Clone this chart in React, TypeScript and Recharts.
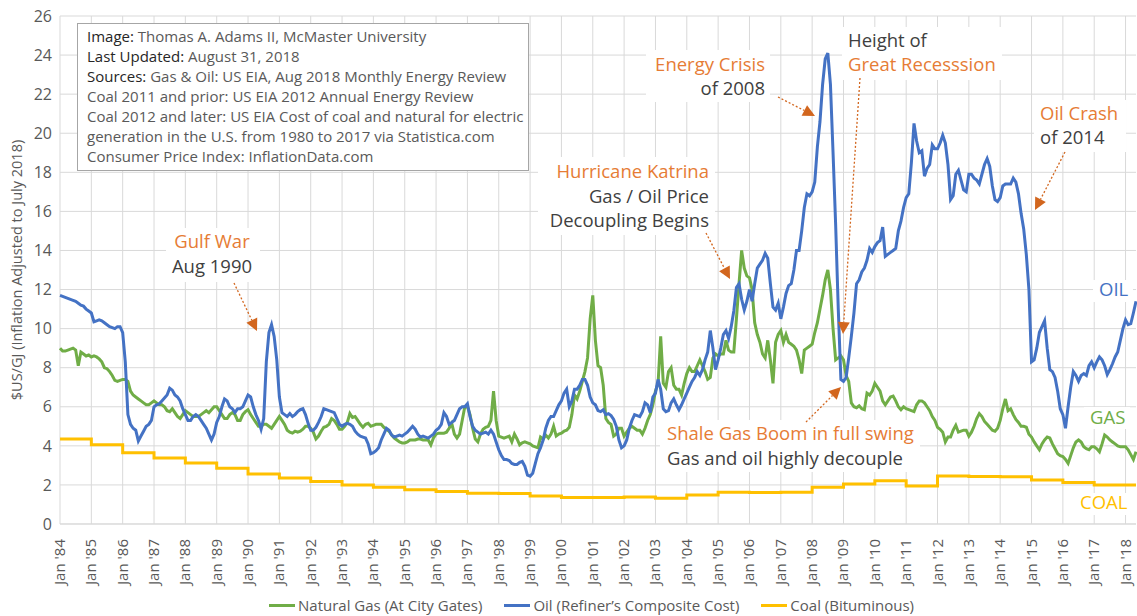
import React from 'react';
import { LineChart, Line, XAxis, YAxis, CartesianGrid, Legend } from 'recharts';

const FONT = '"Segoe UI", "Open Sans", sans-serif';
const START_YEAR = 1984;

// Oil, refiner's composite cost, $US/GJ (July 2018 dollars), monthly Jan 1984 - May 2018
const oilPrices = [
  11.7, 11.65, 11.6, 11.55, 11.5, 11.45, 11.4, 11.3, 11.2, 11.15, 11.0, 10.9, // 1984
  10.8, 10.35, 10.4, 10.45, 10.4, 10.3, 10.2, 10.1, 10.05, 10.0, 10.1, 10.1, // 1985
  9.8, 8.3, 5.6, 5.1, 4.9, 4.8, 4.25, 4.5, 4.75, 5.0, 5.1, 5.3, // 1986
  6.0, 6.1, 6.15, 6.3, 6.45, 6.6, 6.95, 6.85, 6.6, 6.5, 6.3, 5.9, // 1987
  5.6, 5.3, 5.3, 5.5, 5.6, 5.5, 5.3, 5.1, 4.9, 4.6, 4.3, 4.6, // 1988
  5.2, 5.5, 6.0, 6.4, 6.3, 6.0, 5.9, 5.7, 5.9, 5.9, 6.0, 6.3, // 1989
  6.6, 6.5, 6.0, 5.6, 5.3, 4.85, 5.4, 8.3, 9.8, 10.2, 9.6, 8.4, // 1990
  6.5, 5.7, 5.6, 5.5, 5.65, 5.5, 5.6, 5.75, 5.85, 5.9, 5.6, 5.15, // 1991
  4.8, 4.8, 4.95, 5.2, 5.5, 5.9, 5.85, 5.8, 5.75, 5.7, 5.4, 5.1, // 1992
  5.0, 5.1, 5.15, 5.1, 5.0, 4.75, 4.6, 4.5, 4.45, 4.4, 4.1, 3.6, // 1993
  3.65, 3.75, 3.9, 4.3, 4.6, 4.9, 4.8, 4.55, 4.45, 4.5, 4.55, 4.5, // 1994
  4.6, 4.7, 4.85, 5.0, 4.85, 4.6, 4.45, 4.5, 4.45, 4.4, 4.5, 4.6, // 1995
  4.8, 4.9, 5.1, 5.7, 5.5, 5.1, 5.2, 5.3, 5.6, 5.9, 6.0, 6.0, // 1996
  6.15, 5.5, 5.0, 4.8, 4.7, 4.6, 4.65, 4.7, 4.6, 4.8, 4.6, 4.2, // 1997
  3.8, 3.5, 3.3, 3.3, 3.25, 3.1, 3.05, 3.05, 3.15, 3.2, 2.95, 2.5, // 1998
  2.45, 2.6, 3.1, 3.6, 3.9, 4.3, 4.9, 5.3, 5.5, 5.5, 5.8, 6.1, // 1999
  6.3, 6.7, 6.9, 6.0, 6.3, 6.9, 6.9, 7.1, 7.4, 7.4, 7.1, 6.5, // 2000
  6.2, 6.1, 5.8, 5.75, 5.85, 5.6, 5.65, 5.55, 5.35, 5.0, 4.3, 3.9, // 2001
  4.0, 4.3, 4.9, 5.3, 5.6, 5.55, 5.5, 5.75, 6.2, 6.1, 5.7, 6.5, // 2002
  6.7, 7.4, 6.9, 5.9, 5.75, 5.8, 6.2, 6.4, 6.1, 5.85, 6.1, 6.4, // 2003
  6.7, 7.0, 7.3, 7.5, 7.8, 7.6, 7.9, 8.4, 8.8, 9.9, 9.0, 7.9, // 2004
  8.4, 9.0, 9.7, 9.9, 9.5, 10.1, 10.9, 12.1, 12.3, 11.5, 10.95, 11.4, // 2005
  12.0, 11.4, 12.3, 13.1, 13.3, 13.5, 13.85, 13.6, 12.3, 11.1, 10.95, 11.3, // 2006
  10.5, 11.1, 11.8, 12.2, 12.3, 13.0, 14.0, 14.0, 15.0, 16.2, 16.9, 16.8, // 2007
  17.0, 17.5, 19.3, 20.6, 22.5, 23.8, 24.1, 22.5, 19.0, 15.3, 11.0, 7.4, // 2008
  7.3, 7.5, 8.5, 9.6, 10.8, 12.3, 12.5, 12.9, 13.1, 13.5, 14.1, 13.9, // 2009
  14.2, 14.4, 14.5, 15.2, 13.7, 13.8, 13.9, 14.0, 14.1, 15.0, 15.5, 16.2, // 2010
  16.7, 16.9, 18.5, 20.5, 19.6, 19.0, 19.1, 17.8, 18.2, 18.4, 19.4, 19.2, // 2011
  19.2, 19.5, 19.9, 19.5, 18.4, 16.6, 16.8, 17.9, 18.1, 17.6, 17.1, 17.0, // 2012
  17.9, 17.9, 17.7, 17.6, 17.4, 17.9, 18.4, 18.7, 18.3, 17.3, 16.6, 16.5, // 2013
  16.7, 17.3, 17.4, 17.4, 17.4, 17.7, 17.5, 16.9, 15.9, 15.1, 13.8, 12.0, // 2014
  8.3, 8.4, 9.0, 9.8, 10.1, 10.4, 9.0, 7.9, 7.8, 7.5, 6.8, 5.9, // 2015
  5.6, 4.9, 6.0, 7.0, 7.8, 7.6, 7.3, 7.6, 7.7, 7.6, 8.1, 8.3, // 2016
  8.0, 8.3, 8.55, 8.4, 8.1, 7.65, 7.9, 8.2, 8.55, 8.8, 9.4, 10.0, // 2017
  10.45, 10.2, 10.25, 10.8, 11.4, // 2018
];

// Natural gas at city gates, $US/GJ, same months
const gasPrices = [
  9.0, 8.85, 8.85, 8.9, 8.95, 9.0, 8.9, 8.1, 8.8, 8.7, 8.6, 8.65, // 1984
  8.55, 8.6, 8.55, 8.45, 8.3, 8.0, 7.95, 7.8, 7.6, 7.35, 7.3, 7.35, // 1985
  7.4, 7.4, 7.3, 6.8, 6.6, 6.5, 6.4, 6.3, 6.2, 6.1, 6.1, 6.2, // 1986
  6.3, 6.2, 6.1, 6.1, 6.0, 5.8, 5.75, 5.9, 5.7, 5.5, 5.4, 5.6, // 1987
  5.8, 5.7, 5.6, 5.5, 5.5, 5.5, 5.6, 5.7, 5.8, 5.7, 5.85, 6.0, // 1988
  6.0, 5.8, 5.6, 5.4, 5.4, 5.6, 5.7, 5.6, 5.3, 5.3, 5.6, 5.75, // 1989
  5.85, 5.6, 5.4, 5.2, 5.0, 5.0, 5.1, 5.1, 5.0, 4.9, 5.1, 5.3, // 1990
  5.5, 5.3, 5.1, 4.8, 4.7, 4.65, 4.75, 4.7, 4.75, 4.85, 5.0, 5.0, // 1991
  4.9, 4.7, 4.35, 4.5, 4.75, 4.95, 5.0, 5.1, 5.4, 5.3, 5.1, 4.85, // 1992
  4.85, 5.0, 5.2, 5.65, 5.45, 5.5, 5.3, 5.1, 4.95, 5.1, 5.15, 5.0, // 1993
  5.05, 5.1, 5.1, 5.1, 4.95, 4.85, 4.75, 4.55, 4.4, 4.3, 4.2, 4.15, // 1994
  4.15, 4.2, 4.3, 4.3, 4.3, 4.35, 4.35, 4.3, 4.3, 4.3, 4.05, 4.4, // 1995
  4.6, 4.65, 4.65, 4.65, 4.7, 4.9, 5.15, 4.6, 4.4, 4.6, 5.3, 6.0, // 1996
  6.0, 5.6, 4.9, 4.35, 4.2, 4.6, 4.85, 4.95, 5.0, 5.3, 6.8, 5.3, // 1997
  4.5, 4.45, 4.4, 4.45, 4.5, 4.2, 4.6, 4.35, 4.05, 4.15, 4.2, 4.15, // 1998
  4.1, 4.0, 3.95, 3.9, 4.45, 4.35, 4.55, 4.4, 4.6, 5.0, 4.5, 4.6, // 1999
  4.65, 4.75, 4.8, 4.95, 5.6, 6.6, 6.4, 6.8, 7.3, 7.8, 8.5, 10.5, // 2000
  11.7, 9.4, 8.1, 8.0, 7.1, 5.4, 5.2, 5.1, 4.5, 4.6, 4.9, 4.9, // 2001
  4.5, 4.7, 4.9, 5.0, 4.9, 4.8, 4.8, 4.6, 4.9, 5.3, 5.6, 6.1, // 2002
  6.8, 7.2, 9.6, 7.2, 7.0, 7.8, 8.0, 7.1, 6.9, 6.9, 6.6, 7.2, // 2003
  7.7, 8.0, 7.8, 7.8, 8.1, 8.4, 8.1, 7.8, 7.4, 7.5, 8.5, 8.7, // 2004
  8.6, 8.7, 8.7, 9.4, 8.9, 8.8, 8.8, 10.5, 12.3, 14.0, 13.1, 12.7, // 2005
  12.6, 12.0, 10.3, 9.7, 9.3, 8.7, 8.5, 9.4, 8.4, 7.2, 9.3, 9.7, // 2006
  9.9, 9.3, 9.7, 9.3, 9.2, 9.1, 8.9, 8.4, 7.7, 8.9, 9.0, 9.1, // 2007
  9.2, 9.8, 10.3, 11.0, 11.7, 12.5, 13.0, 12.0, 10.0, 8.4, 8.5, 8.6, // 2008
  8.4, 7.6, 7.3, 6.2, 6.0, 5.95, 6.05, 5.9, 5.85, 6.7, 6.6, 6.8, // 2009
  7.2, 7.0, 6.8, 6.3, 6.1, 6.3, 6.5, 6.55, 6.3, 6.0, 5.85, 6.0, // 2010
  5.9, 5.85, 5.8, 5.75, 6.1, 6.3, 6.3, 6.2, 6.0, 5.8, 5.5, 5.3, // 2011
  4.95, 4.85, 4.7, 4.2, 4.45, 4.45, 4.8, 5.05, 4.7, 4.75, 4.8, 4.8, // 2012
  4.5, 4.7, 5.0, 5.4, 5.65, 5.5, 5.25, 5.1, 4.95, 4.8, 4.75, 4.9, // 2013
  5.3, 5.9, 6.4, 5.8, 5.9, 5.6, 5.35, 5.2, 5.0, 5.0, 4.95, 4.6, // 2014
  4.45, 4.2, 4.0, 3.8, 4.1, 4.3, 4.45, 4.4, 4.1, 3.85, 3.6, 3.5, // 2015
  3.45, 3.3, 3.1, 3.5, 3.9, 4.2, 4.3, 4.2, 3.95, 3.85, 3.8, 3.95, // 2016
  3.95, 3.85, 3.7, 4.1, 4.55, 4.45, 4.3, 4.2, 4.1, 4.0, 3.95, 3.95, // 2017
  3.95, 3.8, 3.55, 3.3, 3.7, // 2018
];

// Bituminous coal, $US/GJ, one value per year 1984 - 2018
const coalAnnual = [
  4.35, 4.05, 3.65, 3.38, 3.12, 2.85, 2.56, 2.36, 2.18, 2.0, 1.88, 1.75,
  1.66, 1.57, 1.56, 1.43, 1.36, 1.36, 1.38, 1.32, 1.48, 1.63, 1.61, 1.62,
  1.88, 2.05, 2.22, 1.95, 2.46, 2.43, 2.42, 2.25, 2.12, 2.0, 2.0,
];

const yTicks = [0, 2, 4, 6, 8, 10, 12, 14, 16, 18, 20, 22, 24, 26];

const series = [
  { key: 'gas', name: 'Natural Gas (At City Gates)', color: '#70AD47' },
  { key: 'oil', name: 'Oil (Refiner\u2019s Composite Cost)', color: '#4472C4' },
  { key: 'coal', name: 'Coal (Bituminous)', color: '#FFC000' },
];

const monthKeys = oilPrices.map(
  (_, i) => `${START_YEAR + Math.floor(i / 12)}-${String((i % 12) + 1).padStart(2, '0')}`
);
const janKeys = monthKeys.filter((_, i) => i % 12 === 0);

const data = monthKeys.map((month, i) => ({
  month,
  gas: gasPrices[i],
  oil: oilPrices[i],
  coal: i % 12 === 0 ? coalAnnual[i / 12] : i === monthKeys.length - 1 ? coalAnnual[coalAnnual.length - 1] : null,
}));

const ORANGE = '#E67C35';
const ARROW = '#D2661E';
const DARK = '#404040';
const GREY = '#595959';

const JanTick = ({ x, y, payload }: any) => {
  const yr = String(payload.value).slice(2, 4);
  return (
    <g transform={`translate(${x},${y})`}>
      <text transform="rotate(-90)" x={-13} y={5} textAnchor="end" fill={GREY} fontSize={15} fontFamily={FONT}>
        {`Jan '${yr}`}
      </text>
    </g>
  );
};

const LegendRow = () => (
  <div style={{ display: 'flex', justifyContent: 'center', alignItems: 'center', gap: 22, paddingLeft: 46, fontFamily: FONT, fontSize: 15, color: GREY, lineHeight: '22px' }}>
    {series.map(s => (
      <div key={s.key} style={{ display: 'flex', alignItems: 'center' }}>
        <span style={{ display: 'inline-block', width: 26, height: 3, background: s.color, marginRight: 3 }} />
        {s.name}
      </div>
    ))}
  </div>
);

const Arrow = ({ x1, y1, x2, y2 }: { x1: number; y1: number; x2: number; y2: number }) => {
  const len = Math.hypot(x2 - x1, y2 - y1);
  const ux = (x2 - x1) / len;
  const uy = (y2 - y1) / len;
  const bx = x2 - ux * 12;
  const by = y2 - uy * 12;
  const px = -uy * 6;
  const py = ux * 6;
  return (
    <g>
      <line x1={x1} y1={y1} x2={bx} y2={by} stroke={ARROW} strokeWidth={1.3} strokeDasharray="2 2" />
      <polygon points={`${x2},${y2} ${bx + px},${by + py} ${bx - px},${by - py}`} fill={ARROW} />
    </g>
  );
};

type Note = { x: number; anchor: 'start' | 'middle' | 'end'; box: number[]; lines: [string, string, number][] };

const notes: Note[] = [
  { x: 212, anchor: 'middle', box: [166, 228, 94, 54], lines: [['Gulf War', ORANGE, 248], ['Aug 1990', DARK, 273]] },
  { x: 709, anchor: 'end', box: [538, 157, 177, 78], lines: [['Hurricane Katrina', ORANGE, 178], ['Gas / Oil Price', DARK, 203], ['Decoupling Begins', DARK, 227]] },
  { x: 765, anchor: 'end', box: [646, 50, 124, 52], lines: [['Energy Crisis', ORANGE, 71], ['of 2008', DARK, 95]] },
  { x: 848, anchor: 'start', box: [842, 27, 160, 53], lines: [['Height of', DARK, 47], ['Great Recesssion', ORANGE, 71]] },
  { x: 1040, anchor: 'start', box: [1034, 100, 92, 52], lines: [['Oil Crash', ORANGE, 120], ['of 2014', DARK, 144]] },
  { x: 667, anchor: 'start', box: [660, 420, 260, 52], lines: [['Shale Gas Boom in full swing', ORANGE, 440], ['Gas and oil highly decouple', DARK, 465]] },
  { x: 1099, anchor: 'start', box: [1093, 280, 40, 22], lines: [['OIL', '#4472C4', 296]] },
  { x: 1090, anchor: 'start', box: [1084, 407, 46, 22], lines: [['GAS', '#70AD47', 424]] },
  { x: 1080, anchor: 'start', box: [1074, 493, 58, 22], lines: [['COAL', '#FFC000', 509]] },
];

const arrows = [
  { x1: 234, y1: 283, x2: 257, y2: 331 },
  { x1: 706, y1: 233, x2: 730, y2: 279 },
  { x1: 778, y1: 97, x2: 815, y2: 116 },
  { x1: 860, y1: 78, x2: 843, y2: 334 },
  { x1: 806, y1: 422, x2: 841, y2: 387 },
  { x1: 1065, y1: 152, x2: 1035, y2: 210 },
];

const infoLines: [string, string][] = [
  ['Image:', ' Thomas A. Adams II, McMaster University'],
  ['Last Updated:', ' August 31, 2018'],
  ['Sources:', ' Gas & Oil: US EIA, Aug 2018 Monthly Energy Review'],
  ['', 'Coal 2011 and prior: US EIA 2012 Annual Energy Review'],
  ['', 'Coal 2012 and later: US EIA Cost of coal and natural for electric'],
  ['', 'generation in the U.S. from 1980 to 2017 via Statistica.com'],
  ['', 'Consumer Price Index: InflationData.com'],
];

const gridX = ({ xAxis }: any) => {
  try {
    const s = xAxis && xAxis.scale;
    if (!s) return [];
    const f = typeof s === 'function' ? s : (v: string) => s.map(v);
    return janKeys.map(k => f(k)).filter((v: any) => typeof v === 'number');
  } catch (e) {
    return [];
  }
};

export default function App() {
  // positioned at the page corner so the 1137x616 frame maps 1:1 onto the chart
  return (
    <div style={{ position: 'absolute', left: 0, top: 0, width: 1137, height: 616, overflow: 'hidden', fontFamily: FONT, background: '#fff' }}>
      <LineChart width={1137} height={616} data={data} margin={{ top: 16, right: 1, left: 8, bottom: 0 }}>
        <CartesianGrid stroke="#D9D9D9" verticalCoordinatesGenerator={gridX} />
        <XAxis dataKey="month" interval={11} tick={(p: any) => <JanTick {...p} />} tickLine={false} tickSize={0} axisLine={{ stroke: '#D9D9D9' }} height={70} />
        <YAxis domain={[0, 26]} ticks={yTicks} interval={0} width={52} axisLine={false} tickLine={false} tickSize={6} tickMargin={2} tick={{ fill: GREY, fontSize: 16, fontFamily: FONT }} />
        <Legend verticalAlign="bottom" height={22} wrapperStyle={{ left: 0, width: 1137 }} content={() => <LegendRow />} />
        {series.map(s => (
          <Line
            key={s.key}
            dataKey={s.key}
            name={s.name}
            stroke={s.color}
            strokeWidth={3}
            dot={false}
            type={s.key === 'coal' ? 'stepAfter' : 'linear'}
            connectNulls
            isAnimationActive={false}
          />
        ))}
      </LineChart>
      <svg width={1137} height={616} style={{ position: 'absolute', left: 0, top: 0, pointerEvents: 'none' }} fontFamily={FONT}>
        <text transform="translate(22,270) rotate(-90)" textAnchor="middle" fontSize={14.5} fill={GREY}>
          $US/GJ (Inflation Adjusted to July 2018)
        </text>
        <rect x={77.5} y={23.5} width={451} height={147} fill="#fff" stroke="#A6A6A6" />
        {infoLines.map(([label, rest], i) => (
          <text key={i} x={87} y={42 + i * 20} fontSize={15} fill={GREY}>
            {label && <tspan fill="#262626">{label}</tspan>}
            <tspan>{rest}</tspan>
          </text>
        ))}
        {notes.map((n, i) => (
          <g key={i}>
            <rect x={n.box[0]} y={n.box[1]} width={n.box[2]} height={n.box[3]} fill="#fff" />
            {n.lines.map(([t, c, y], j) => (
              <text key={j} x={n.x} y={y} textAnchor={n.anchor} fontSize={18.5} fill={c}>
                {t}
              </text>
            ))}
          </g>
        ))}
        {arrows.map((a, i) => (
          <Arrow key={i} {...a} />
        ))}
      </svg>
    </div>
  );
}
